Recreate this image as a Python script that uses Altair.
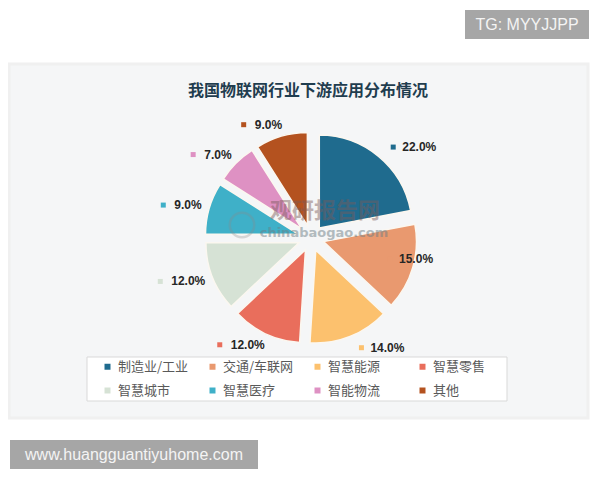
import altair as alt
import pandas as pd

categories = ["制造业/工业", "交通/车联网", "智慧能源", "智慧零售", "智慧城市", "智慧医疗", "智能物流", "其他"]
values = [22, 15, 14, 12, 12, 9, 7, 9]
colors = ["#1f6b8e", "#e9996f", "#fcc16e", "#e96e5c", "#d6e2d5", "#3fb0c8", "#de91c3", "#b4521f"]
title_text = "我国物联网行业下游应用分布情况"

CX, CY = 303, 230      # pie centre (chart coords)
R = 93                 # slice radius
EXPLODE = 13           # explosion distance
LR = 118               # label anchor radius
FONT = "Noto Sans CJK SC"

df = pd.DataFrame({"cat": categories, "value": values})
one = pd.DataFrame({"a": [0]})

base = (
    alt.Chart(df)
    .transform_window(idx="row_number()")
    .transform_window(cum="sum(value)", sort=[alt.SortField("idx")], frame=[None, 0])
    .transform_joinaggregate(total="sum(value)")
    .transform_calculate(
        t1="2*PI*datum.cum/datum.total",
        t0="2*PI*(datum.cum-datum.value)/datum.total",
    )
    .transform_calculate(tm="(datum.t0+datum.t1)/2")
    .transform_calculate(
        px=f"{CX}+{EXPLODE}*sin(datum.tm)",
        py=f"{CY}-{EXPLODE}*cos(datum.tm)",
        lr=f"datum.cat === '交通/车联网' ? 75 : {LR}",
        lab="format(datum.value, '.1f') + '%'",
        side="sin(datum.tm) >= 0 ? 1 : -1",
    )
    .transform_calculate(
        ax=f"{CX}+datum.lr*sin(datum.tm)",
        ly=f"{CY}-datum.lr*cos(datum.tm)",
    )
    .transform_calculate(
        tx="datum.side > 0 ? datum.ax + 16 : datum.ax + 4",
    )
    .transform_calculate(
        sx="datum.side > 0 ? datum.ax + 7 : datum.tx - (length(datum.lab)*6.6 + 12)",
    )
)

color_scale = alt.Scale(domain=categories, range=colors)

arcs = base.mark_arc(outerRadius=R, stroke="#fbf7f0", strokeWidth=1.5).encode(
    theta=alt.Theta("t0:Q", scale=None),
    theta2="t1:Q",
    x=alt.X("px:Q", scale=None, axis=None),
    y=alt.Y("py:Q", scale=None, axis=None),
    color=alt.Color(
        "cat:N",
        scale=color_scale,
        legend=alt.Legend(
            orient="none", legendX=93, legendY=352, columns=4, direction="horizontal",
            symbolType="square", symbolSize=36, symbolStrokeWidth=0,
            labelFont=FONT, labelFontSize=13, labelColor="#595959",
            gridAlign="all", columnPadding=17, rowPadding=10, labelOffset=4,
            title=None, padding=0, labelLimit=200,
        ),
    ),
)

squares = base.mark_point(shape="square", size=25, filled=True, opacity=1, strokeWidth=0).encode(
    x=alt.X("sx:Q", scale=None, axis=None),
    y=alt.Y("ly:Q", scale=None, axis=None),
    color=alt.Color("cat:N", scale=color_scale, legend=None),
)

labels_right = base.transform_filter("datum.side > 0").mark_text(
    align="left", baseline="middle", font="Liberation Sans", fontSize=12, fontWeight="bold", color="#262626"
).encode(
    x=alt.X("tx:Q", scale=None, axis=None),
    y=alt.Y("ly:Q", scale=None, axis=None),
    text="lab:N",
)
labels_left = base.transform_filter("datum.side < 0").mark_text(
    align="right", baseline="middle", font="Liberation Sans", fontSize=12, fontWeight="bold", color="#262626"
).encode(
    x=alt.X("tx:Q", scale=None, axis=None),
    y=alt.Y("ly:Q", scale=None, axis=None),
    text="lab:N",
)

panel = alt.Chart(one).mark_rect(fill="#f5f6f7", stroke="#f0f0f0", strokeWidth=3).encode(
    x=alt.value(1), x2=alt.value(580), y=alt.value(56), y2=alt.value(410)
)
legend_box = alt.Chart(one).mark_rect(fill="#ffffff", stroke="#d9d9d9", strokeWidth=1).encode(
    x=alt.value(79), x2=alt.value(499), y=alt.value(349), y2=alt.value(393)
)

title = alt.Chart(one).mark_text(
    font=FONT, fontSize=16, fontWeight="bold", color="#1f3d4f", align="center", baseline="middle"
).encode(x=alt.value(300), y=alt.value(83), text=alt.value(title_text))

wm_logo = alt.Chart(one).mark_point(shape="circle", size=600, filled=False, stroke="#8a8a8a",
                                    strokeWidth=2.5, opacity=0.3).encode(
    x=alt.value(234), y=alt.value(217)
)
wm1 = alt.Chart(one).mark_text(
    font=FONT, fontSize=22, fontWeight="bold", color="#7a5a5a", opacity=0.45, align="center", baseline="middle"
).encode(x=alt.value(317), y=alt.value(203), text=alt.value("观研报告网"))
wm2 = alt.Chart(one).mark_text(
    font="DejaVu Sans", fontSize=13, fontWeight="bold", color="#6f7f86", opacity=0.5, align="center", baseline="middle"
).encode(x=alt.value(316), y=alt.value(225), text=alt.value("chinabaogao.com"))

tg_box = alt.Chart(one).mark_rect(fill="#a6a6a6").encode(
    x=alt.value(457), x2=alt.value(581), y=alt.value(2), y2=alt.value(31)
)
tg_text = alt.Chart(one).mark_text(
    font="Liberation Sans", fontSize=16, color="#f4f4f4", align="center", baseline="middle"
).encode(x=alt.value(519), y=alt.value(17), text=alt.value("TG: MYYJJPP"))
url_box = alt.Chart(one).mark_rect(fill="#a6a6a6").encode(
    x=alt.value(2), x2=alt.value(250), y=alt.value(432), y2=alt.value(461)
)
url_text = alt.Chart(one).mark_text(
    font="Liberation Sans", fontSize=16, color="#f4f4f4", align="center", baseline="middle"
).encode(x=alt.value(126), y=alt.value(447), text=alt.value("www.huangguantiyuhome.com"))

chart = alt.layer(
    panel, legend_box, arcs, wm_logo, wm1, wm2, squares, labels_right, labels_left, title,
    tg_box, tg_text, url_box, url_text,
).properties(
    width=584, height=462, autosize=alt.AutoSizeParams(type="none"), padding=0, background="white"
).configure_view(stroke=None)

chart.save("out.html", embed_options={"renderer": "svg", "actions": False})
